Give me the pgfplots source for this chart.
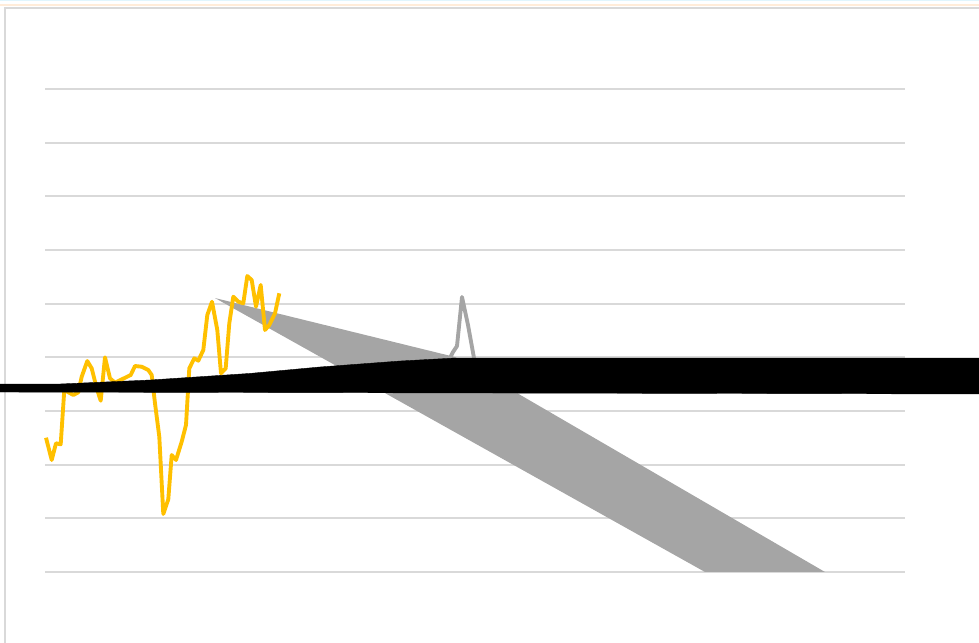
\documentclass[border=0pt]{standalone}
\usepackage{pgfplots}
\pgfplotsset{compat=1.18}
\definecolor{gridgray}{HTML}{D9D9D9}
\definecolor{xlgray}{HTML}{A5A5A5}
\definecolor{xlgold}{HTML}{FFC000}
\begin{document}
\begin{tikzpicture}
\path[use as bounding box] (0,0) rectangle (734.25pt,482.25pt);
\draw[cyan!12, line width=1pt] (0,481.9pt) -- (734.25pt,481.9pt);
\draw[orange!15, line width=1.5pt] (0,478.5pt) -- (734.25pt,478.5pt);
\draw[gridgray, line width=1.3pt] (3.6pt,0) -- (3.6pt,476.3pt) -- (734.25pt,476.3pt);
\begin{axis}[
  at={(33.75pt,53.25pt)}, anchor=south west,
  scale only axis, width=645pt, height=362.25pt,
  xmin=45, xmax=905, ymin=0, ymax=9,
  clip=false,
  axis line style={draw=none},
  tick style={draw=none},
  xtick=\empty,
  ytick={0,1,2,3,4,5,6,7,8,9},
  yticklabel style={text opacity=0, opacity=0},
  ymajorgrids,
  major grid style={draw=gridgray, line width=1.4pt},
]
% gray area band
\addplot[fill=xlgray, draw=none] coordinates {
  (215,5.105) (455,4.006) (825,0) (705,0)
} -- cycle;
% gray line
\addplot[xlgray, line width=2.9pt, line join=round] coordinates {
  (450,3.987) (453,4.099) (457,4.211) (462,5.124) (468,4.602) (474,3.987)
};
% yellow line
\addplot[xlgold, line width=2.9pt, line join=round] coordinates {
  (46,2.502) (51.7,2.087) (56,2.398) (60.7,2.379) (64.3,3.391) (73.3,3.298)
  (78.3,3.348) (81.7,3.639) (87.3,3.931) (91.7,3.795) (96.7,3.423) (100.7,3.192)
  (105,4.000) (110,3.609) (115,3.527) (130.7,3.671) (135,3.838) (141.7,3.825)
  (148.3,3.764) (151.7,3.671) (155,3.143) (159.3,2.521) (163.3,1.081) (168.3,1.355)
  (171.7,2.180) (176,2.087) (181.7,2.428) (186,2.739) (189.3,3.795) (194.3,3.982)
  (198.3,3.937) (203.3,4.136) (207.3,4.788) (212,5.036) (217.3,4.509) (221,3.702)
  (225.7,3.795) (229.3,4.634) (233.3,5.130) (238.3,5.036) (243.3,5.007) (247.3,5.515)
  (251.7,5.441) (256,4.943) (260.7,5.348) (265,4.509) (269.3,4.602) (275,4.820)
  (279.3,5.193)
};
% black band
\addplot[fill=black, draw=black, line width=0.3pt] coordinates {
  (-5,3.503) (60,3.503) (150,3.577) (250,3.700) (320,3.820) (400,3.931)
  (455,3.987) (985,3.987) (985,3.317) (-5,3.354)
} -- cycle;
\end{axis}
\end{tikzpicture}
\end{document}
